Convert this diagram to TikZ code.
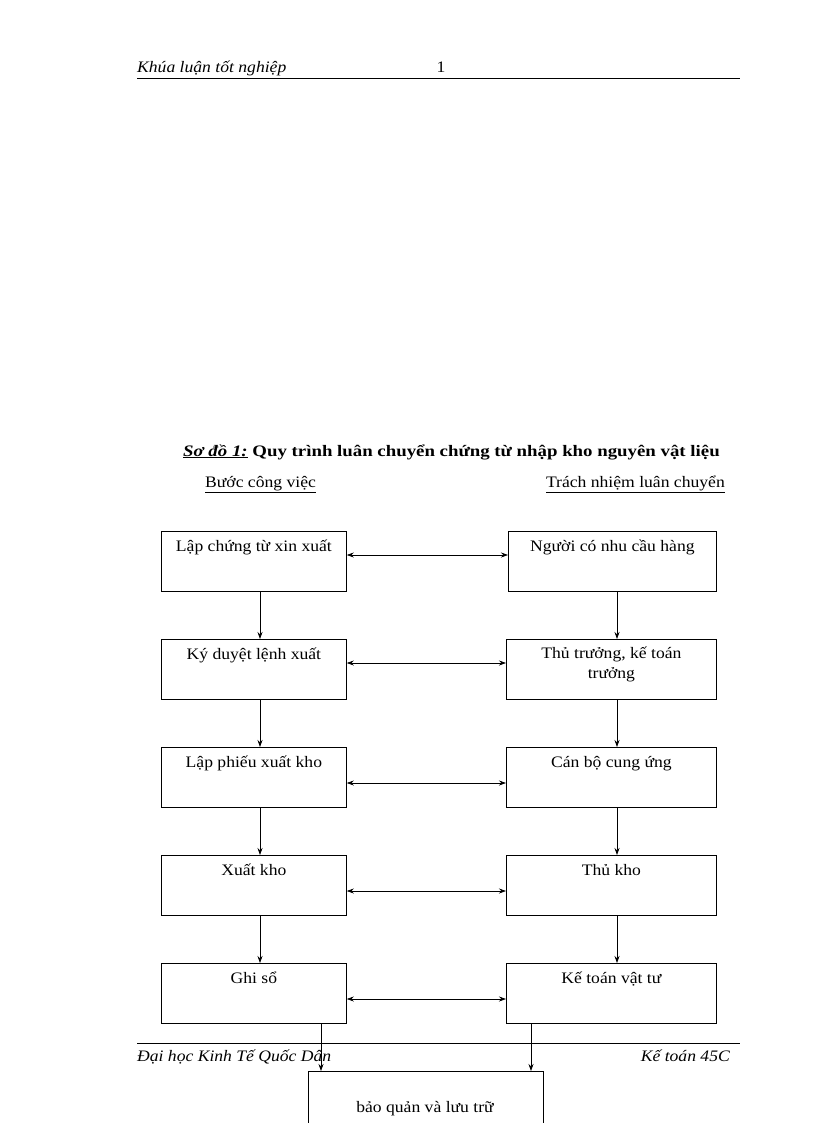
\documentclass[tikz,border=0pt]{standalone}
\usepackage{fontspec}
\setmainfont[FakeStretch=1.1]{Liberation Serif}
\usetikzlibrary{arrows.meta}
\begin{document}
\begin{tikzpicture}[x=1pt,y=-1pt,
  txt/.style={font=\fontsize{16}{18}\selectfont,inner sep=0pt},
  bx/.style={draw,line width=0.8pt,rectangle,minimum height=60pt,inner sep=0pt},
  arr/.style={-{Stealth[length=7pt,width=5pt]},line width=0.7pt},
  darr/.style={{Stealth[length=7pt,width=5pt]}-{Stealth[length=7pt,width=5pt]},line width=0.7pt}]
\useasboundingbox (0,0) rectangle (816,1123);
% header
\node[txt,anchor=base west,font=\fontsize{16}{18}\selectfont\itshape] (h1) at (137,73) {Khúa luận tốt nghiệp};
\node[txt,anchor=base] (h2) at (441,73) {1};
\draw[line width=0.8pt] (137,78) -- (740,78);
% title
\node[txt,anchor=base west,font=\fontsize{16}{18}\selectfont\bfseries] (t) at (183,456) {\scalebox{1.07}[1]{\underline{\itshape Sơ đồ 1:} Quy trình luân chuyển chứng từ nhập kho nguyên vật liệu}};
\node[txt,anchor=base west] (s1) at (205,487) {\underline{Bước công việc}};
\node[txt,anchor=base east] (s2) at (725,487) {\underline{Trách nhiệm luân chuyển}};
% boxes
\newcommand{\lb}[3]{\node[bx,minimum width=185pt,anchor=north west] (#1) at (161,#2) {};
  \node[txt,anchor=base] at ([yshift=-20pt]#1.north) {#3};}
\lb{L1}{531}{Lập chứng từ xin xuất}
\lb{L2}{639}{Ký duyệt lệnh xuất}
\lb{L3}{747}{Lập phiếu xuất kho}
\lb{L4}{855}{Xuất kho}
\lb{L5}{963}{Ghi sổ}
\node[bx,minimum width=208pt,anchor=north west] (R1) at (508,531) {};
\node[txt,anchor=base] at ([yshift=-20pt]R1.north) {Người có nhu cầu hàng};
\node[bx,minimum width=210pt,anchor=north west] (R2) at (506,639) {};
\node[txt,anchor=north,align=center] at ([yshift=-8pt]R2.north) {Thủ trưởng, kế toán\\[2pt]trưởng};
\node[bx,minimum width=210pt,anchor=north west] (R3) at (506,747) {};
\node[txt,anchor=base] at ([yshift=-20pt]R3.north) {Cán bộ cung ứng};
\node[bx,minimum width=210pt,anchor=north west] (R4) at (506,855) {};
\node[txt,anchor=base] at ([yshift=-20pt]R4.north) {Thủ kho};
\node[bx,minimum width=210pt,anchor=north west] (R5) at (506,963) {};
\node[txt,anchor=base] at ([yshift=-20pt]R5.north) {Kế toán vật tư};
% horizontal arrows
\foreach \i/\y in {1/555,2/663,3/783,4/891,5/999}{
  \draw[darr] (L\i.east |- 0,\y) -- (R\i.west |- 0,\y);}
% vertical arrows
\foreach \i/\j in {1/2,2/3,3/4,4/5}{
  \draw[arr] (L\i.south -| 260,0) -- (L\j.north -| 260,0);
  \draw[arr] (R\i.south -| 617,0) -- (R\j.north -| 617,0);}
% footer
\draw[line width=0.8pt] (137,1043) -- (740,1043);
\node[txt,anchor=base west,font=\fontsize{16}{18}\selectfont\itshape] (f1) at (137,1061) {Đại học Kinh Tế Quốc Dân};
\node[txt,anchor=base east,font=\fontsize{16}{18}\selectfont\itshape] (f2) at (730,1061) {Kế toán 45C};
% bottom box
\node[bx,minimum width=235pt,minimum height=70pt,anchor=north west] (B) at (308,1071) {};
\node[txt,anchor=base] at (425,1112) {bảo quản và lưu trữ};
\draw[arr] (L5.south -| 321,0) -- (B.north -| 321,0);
\draw[arr] (R5.south -| 531,0) -- (B.north -| 531,0);
\end{tikzpicture}
\end{document}
